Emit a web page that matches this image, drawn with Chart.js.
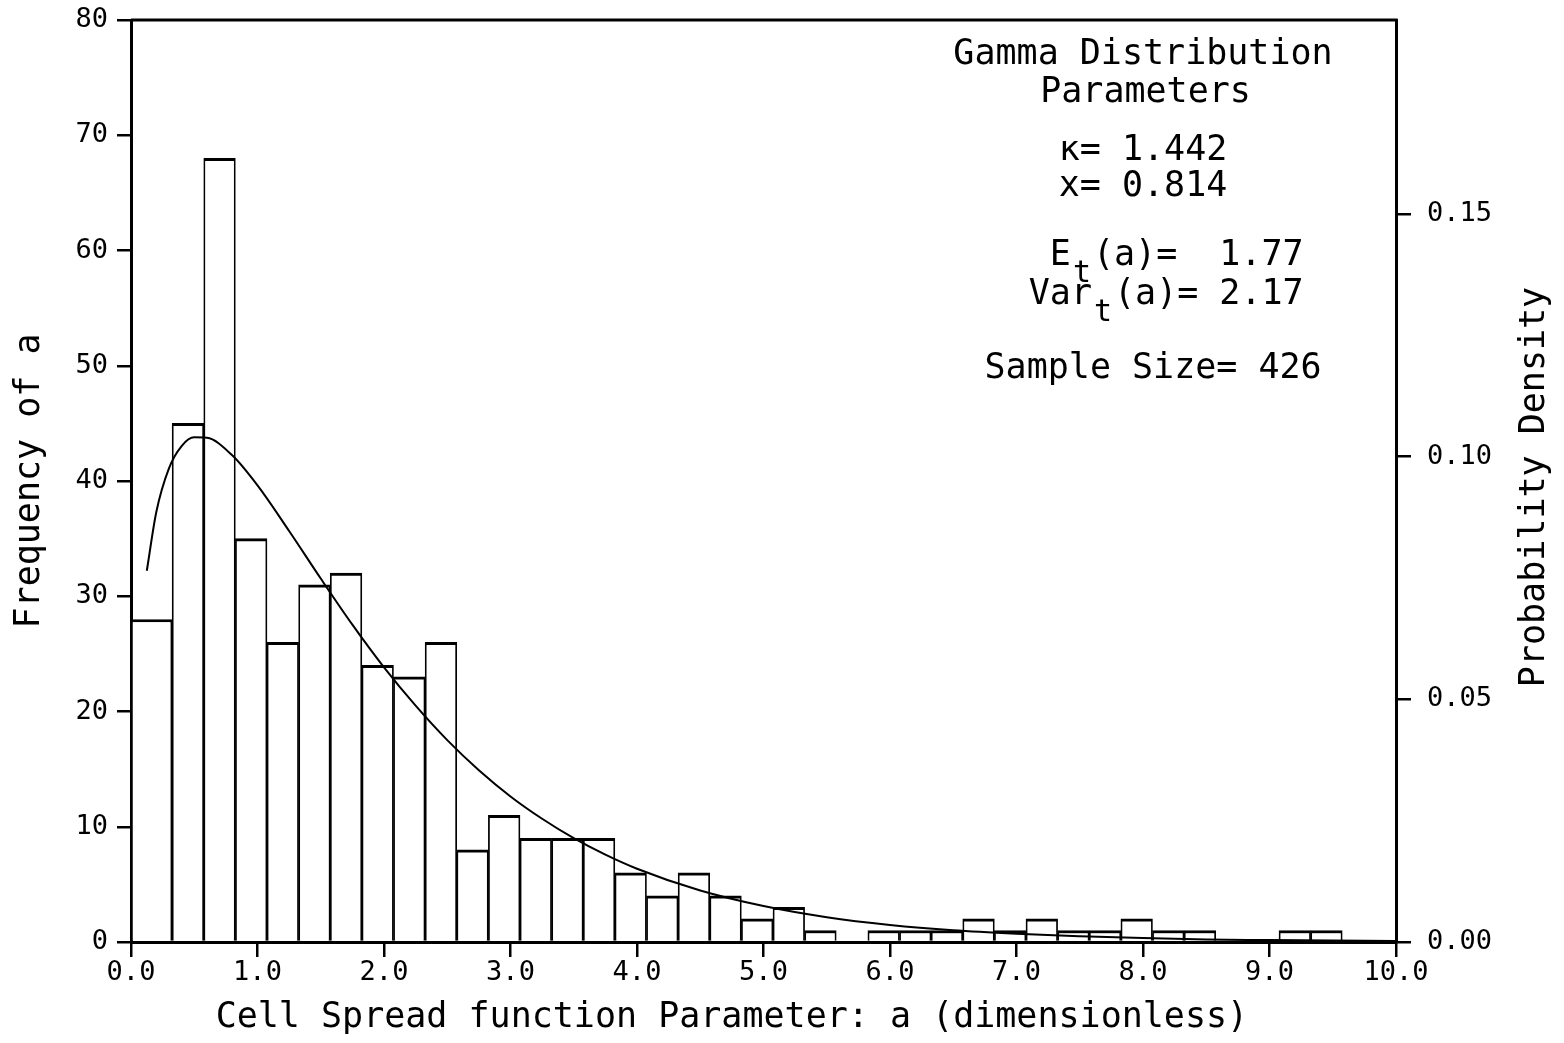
<!DOCTYPE html>
<html>
<head>
<meta charset="utf-8">
<script src="https://cdn.jsdelivr.net/npm/chart.js@4.4.1/dist/chart.umd.min.js"></script>
<style>
  html, body { margin: 0; padding: 0; background: #fff; }
  #wrap { width: 1564px; height: 1043px; }
</style>
</head>
<body>
<div id="wrap"><canvas id="chart" width="1564" height="1043"></canvas></div>
<script>
// Bin edges of the histogram of the cell spread parameter a (first bin starts at the axis)
const binEdges = [0, 0.325, 0.575, 0.825, 1.075, 1.325, 1.575, 1.825, 2.075, 2.325,
  2.575, 2.825, 3.075, 3.325, 3.575, 3.825, 4.075, 4.325, 4.575, 4.825,
  5.075, 5.325, 5.575, 5.825, 6.075, 6.325, 6.575, 6.825, 7.075, 7.325,
  7.575, 7.825, 8.075, 8.325, 8.575, 8.825, 9.075, 9.325, 9.575];

// Frequency of a in each bin (426 cells in total)
const counts = [28, 45, 68, 35, 26, 31, 32, 24, 23, 26,
  8, 11, 9, 9, 9, 6, 4, 6, 4, 2,
  3, 1, 0, 1, 1, 1, 2, 1, 2, 1,
  1, 2, 1, 1, 0, 0, 1, 1];

// Fitted gamma density (right-hand axis units)
const curveA = [0.125, 0.2, 0.3, 0.4, 0.5, 0.6, 0.8, 1.0, 1.25, 1.5, 1.75, 2.0,
  2.25, 2.5, 2.75, 3.0, 3.25, 3.5, 3.75, 4.0, 4.5, 5.0, 5.5, 6.0,
  6.5, 7.0, 7.5, 8.0, 8.5, 9.0, 9.5, 10.0];
const curveDensity = [0.0765, 0.0886, 0.0976, 0.1022, 0.1040, 0.1039, 0.1003, 0.0941,
  0.0847, 0.0749, 0.0654, 0.0566, 0.0487, 0.0416, 0.0354, 0.0300,
  0.0254, 0.0214, 0.0180, 0.0151, 0.0106, 0.0074, 0.0051, 0.0035,
  0.0024, 0.0017, 0.0012, 0.0008, 0.0005, 0.0004, 0.0003, 0.0002];

// Axis ranges and tick steps
const xRange = [0, 10];
const xStep = 1;
const freqRange = [0, 80];
const freqStep = 10;
const densityRange = [0, 0.19];
const densityStep = 0.05;

// Text
const xTitle = 'Cell Spread function Parameter: a (dimensionless)';
const yTitle = 'Frequency of a';
const y2Title = 'Probability Density';
const kappaValue = '1.442';
const chiValue = '0.814';
const meanValue = '1.77';
const varValue = '2.17';
const sampleSize = '426';

const FONT = '"DejaVu Sans Mono", "Liberation Mono", monospace';
Chart.defaults.font.family = FONT;
Chart.defaults.color = '#000';

// Bars: the first (wider) bin is its own dataset, the rest share one width
const mid = (i) => (binEdges[i] + binEdges[i + 1]) / 2;
const firstBar = [{ x: mid(0), y: counts[0] }];
const otherBars = [];
for (let i = 1; i < counts.length; i++) otherBars.push({ x: mid(i), y: counts[i] });
const stdWidth = binEdges[2] - binEdges[1];
const firstWidthRatio = (binEdges[1] - binEdges[0]) / stdWidth;

const curvePoints = curveA.map((a, i) => ({ x: a, y: curveDensity[i] }));

const barStyle = {
  backgroundColor: '#ffffff',
  borderColor: '#000000',
  borderWidth: { top: 3, left: 1.75, right: 1.75, bottom: 0 },
  borderSkipped: 'start',
  grouped: false,
  barPercentage: 1,
  yAxisID: 'y',
  order: 2
};

// Frame line, annotation block and right-hand axis title
const notesPlugin = {
  id: 'notes',
  afterDraw(chart) {
    const { ctx, chartArea: area, scales } = chart;
    const xs = scales.x, ys = scales.y;
    ctx.save();
    ctx.strokeStyle = '#000';
    ctx.lineWidth = 3;
    ctx.beginPath();
    ctx.moveTo(area.left, area.top);
    ctx.lineTo(area.right + 1.5, area.top);
    ctx.stroke();

    ctx.fillStyle = '#000';
    const mainFont = '35px ' + FONT;
    const subFont = '30px ' + FONT;
    ctx.textBaseline = 'alphabetic';

    const runWidth = (r) => { ctx.font = r.sub ? subFont : mainFont; return ctx.measureText(r.t).width; };
    const runsWidth = (runs) => runs.reduce((w, r) => w + runWidth(r), 0);
    const drawRuns = (runs, x, y) => {
      let cx = x;
      ctx.textAlign = 'left';
      runs.forEach(r => {
        const w = runWidth(r);
        ctx.fillText(r.t, cx + (r.sub ? 2 : 0), y + (r.sub ? 17 : 0));
        cx += w + (r.sub ? 4 : 0);
      });
    };
    const centered = (runs, xv, yv) => {
      const w = runsWidth(runs);
      drawRuns(runs, xs.getPixelForValue(xv) - w / 2, ys.getPixelForValue(yv));
    };
    const rightAligned = (runs, xv, yv) => {
      const w = runsWidth(runs) + runs.filter(r => r.sub).length * 4;
      drawRuns(runs, xs.getPixelForValue(xv) - w, ys.getPixelForValue(yv));
    };

    centered([{ t: 'Gamma Distribution' }], 8.0, 76.2);
    centered([{ t: 'Parameters' }], 8.02, 72.9);
    centered([{ t: 'κ= ' + kappaValue }], 8.0, 67.85);
    centered([{ t: 'x= ' + chiValue }], 8.0, 64.7);
    rightAligned([{ t: 'E' }, { t: 't', sub: true }, { t: '(a)=  ' + meanValue }], 9.27, 58.7);
    rightAligned([{ t: 'Var' }, { t: 't', sub: true }, { t: '(a)= ' + varValue }], 9.27, 55.35);
    centered([{ t: 'Sample Size= ' + sampleSize }], 8.08, 48.9);

    // right-hand axis title, reading bottom to top
    ctx.font = mainFont;
    ctx.translate(chart.width - 29, (area.top + area.bottom) / 2 + 6);
    ctx.rotate(-Math.PI / 2);
    ctx.textAlign = 'center';
    ctx.textBaseline = 'middle';
    ctx.fillText(y2Title, 0, 0);
    ctx.restore();
  }
};

const tickFont = { family: FONT, size: 27 };
const titleFont = { family: FONT, size: 35 };
const gridStyle = { display: true, drawOnChartArea: false, drawTicks: true, color: '#000', lineWidth: 2.5 };
const borderStyle = { display: true, color: '#000', width: 3 };

// fixed axis boxes so the plot area sits where the frame is drawn
const fixVertical = (w) => (s) => { s.width = w; s.paddingTop = 0; s.paddingBottom = 0; };
const fixHorizontal = (h) => (s) => { s.height = h; s.paddingLeft = 0; s.paddingRight = 0; };

new Chart(document.getElementById('chart'), {
  type: 'bar',
  data: {
    datasets: [
      Object.assign({ label: 'first bin', data: firstBar, categoryPercentage: firstWidthRatio }, barStyle),
      Object.assign({ label: 'bins', data: otherBars, categoryPercentage: 1 }, barStyle),
      {
        type: 'line',
        label: 'gamma density',
        data: curvePoints,
        yAxisID: 'y2',
        borderColor: '#000',
        borderWidth: 2,
        pointRadius: 0,
        fill: false,
        cubicInterpolationMode: 'monotone',
        order: 1
      }
    ]
  },
  options: {
    responsive: false,
    animation: false,
    devicePixelRatio: 1,
    layout: { padding: { top: 20, left: 0, right: 0, bottom: 0 } },
    plugins: { legend: { display: false }, tooltip: { enabled: false } },
    scales: {
      x: {
        type: 'linear',
        position: 'bottom',
        min: xRange[0], max: xRange[1],
        offset: false,
        grid: Object.assign({ offset: false, tickLength: 15 }, gridStyle),
        border: borderStyle,
        ticks: {
          stepSize: xStep, font: tickFont, padding: 0, maxRotation: 0,
          callback: (v) => Number(v).toFixed(1)
        },
        title: { display: true, text: xTitle + '   ', font: titleFont, padding: { top: 0, bottom: 4 } },
        afterFit: fixHorizontal(101)
      },
      y: {
        type: 'linear',
        position: 'left',
        min: freqRange[0], max: freqRange[1],
        grid: Object.assign({ tickLength: 14 }, gridStyle),
        border: borderStyle,
        ticks: { stepSize: freqStep, font: tickFont, padding: 9 },
        title: { display: true, text: yTitle, font: titleFont, padding: { top: 9, bottom: 0 } },
        afterFit: fixVertical(131)
      },
      y2: {
        type: 'linear',
        position: 'right',
        min: densityRange[0], max: densityRange[1],
        grid: Object.assign({ tickLength: 15 }, gridStyle),
        border: borderStyle,
        ticks: {
          stepSize: densityStep, font: tickFont, padding: 16, includeBounds: false,
          callback: (v) => Number(v).toFixed(2)
        },
        title: { display: false },
        afterFit: fixVertical(168)
      }
    }
  },
  plugins: [notesPlugin]
});
</script>
</body>
</html>
